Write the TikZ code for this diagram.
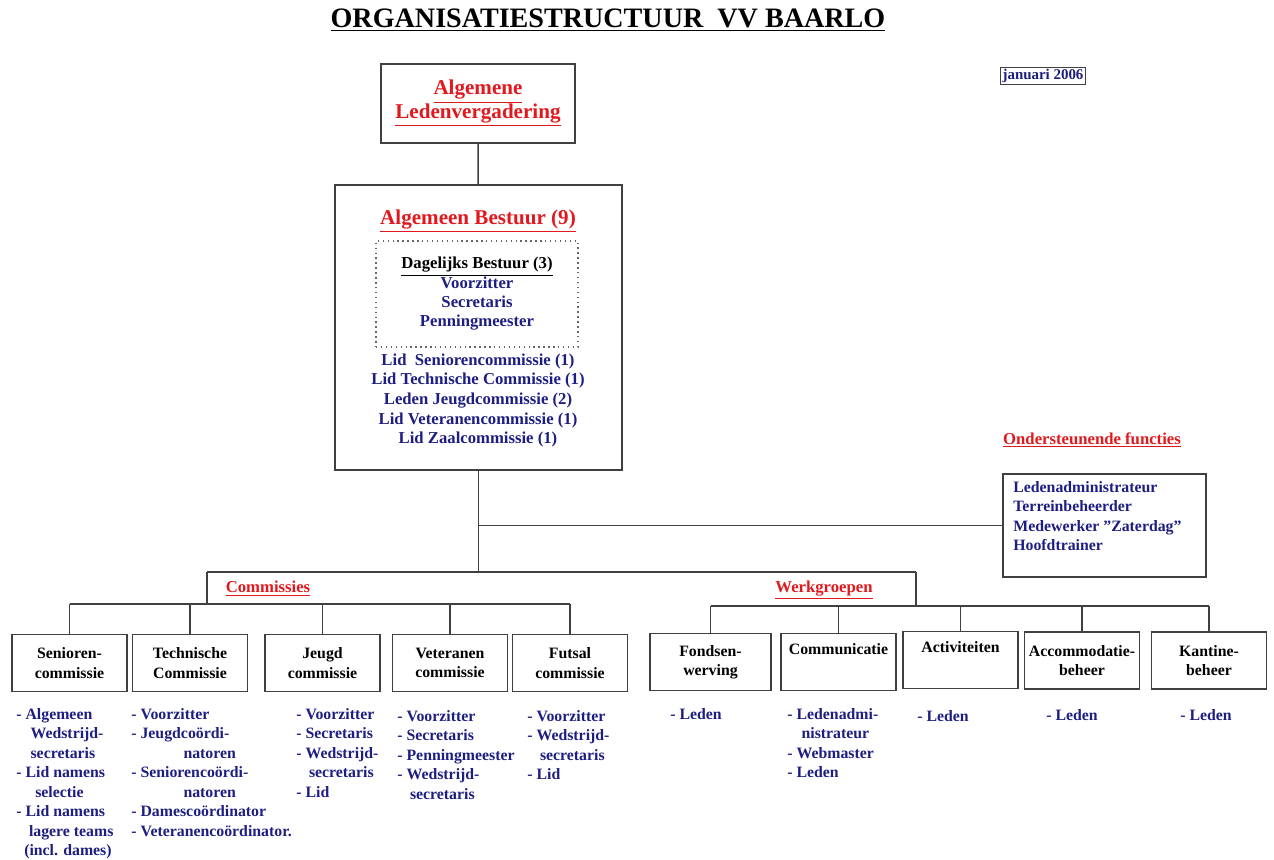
\documentclass[tikz,border=0pt]{standalone}
\usepackage{fontspec}
\setmainfont{Liberation Serif}

\definecolor{kopred}{RGB}{225,25,30}
\definecolor{lidblue}{RGB}{30,30,130}

\tikzset{
	box/.style={draw=black!75,line width=0.8pt,align=center,inner sep=2pt},
	txt/.style={font=\bfseries\fontsize{9}{11.1}\selectfont},
	kop/.style={text=kopred,font=\bfseries\fontsize{9.5}{11.2}\selectfont},
	unit/.style={box,txt,minimum width=2.3cm,minimum height=1.14cm},
	lst/.style={txt,text=lidblue,align=left,anchor=north west,inner sep=0pt},
	conn/.style={draw=black!75,line width=0.8pt}
}

\begin{document}
\begin{tikzpicture}[x=0.02cm,y=-0.02cm]
\useasboundingbox (0,0) rectangle (1274,859);

\node[font=\bfseries\fontsize{16}{18}\selectfont] (title) at (608,20) {\underline{ORGANISATIESTRUCTUUR~ VV BAARLO}};
\node[box,font=\bfseries\fontsize{8.5}{10}\selectfont,text=lidblue,inner sep=1pt,line width=0.6pt] (datum) at (1043,76) {januari 2006};

\node[box,minimum width=3.88cm,minimum height=1.58cm,text=kopred,font=\bfseries\fontsize{12}{13.6}\selectfont] (alv) at (478,103.5) {\underline{Algemene}\\\underline{Ledenvergadering}};

\node[box,minimum width=5.74cm,minimum height=5.7cm] (ab) at (478.5,327.5) {};
\node[text=kopred,font=\bfseries\fontsize{12}{13.6}\selectfont] (abtitle) at (478,221) {\underline{Algemeen Bestuur (9)}};
\node[draw=black!60,dotted,line width=0.8pt,minimum width=4.04cm,minimum height=2.12cm,align=center,text=lidblue,font=\bfseries\fontsize{9.5}{11}\selectfont] (db) at (477,294)
	{\textcolor{black}{\underline{Dagelijks Bestuur (3)}}\\Voorzitter\\Secretaris\\Penningmeester};
\node[text=lidblue,align=center,font=\bfseries\fontsize{9.5}{11.2}\selectfont] (ableden) at (478,400.5)
	{Lid~ Seniorencommissie (1)\\Lid Technische Commissie (1)\\Leden Jeugdcommissie (2)\\Lid Veteranencommissie (1)\\Lid Zaalcommissie (1)};

\node[kop] (ondlabel) at (1092,440) {\underline{Ondersteunende functies}};
\node[box,minimum width=4.06cm,minimum height=2.06cm] (ond) at (1104.5,525.5) {};
\node[lst] (ondtxt) at (1013,481) {Ledenadministrateur\\Terreinbeheerder\\Medewerker \symbol{34}Zaterdag\symbol{34}\\Hoofdtrainer};

\node[kop] (comlabel) at (268,589) {\underline{Commissies}};
\node[kop] (wrklabel) at (824,590) {\underline{Werkgroepen}};

\node[unit] (sen) at (69.5,663) {Senioren-\\commissie};
\node[unit] (tec) at (190,663) {Technische\\Commissie};
\node[unit] (jeu) at (322.5,663) {Jeugd\\commissie};
\node[unit] (vet) at (450,663) {Veteranen\\commissie};
\node[unit] (fut) at (570,663) {Futsal\\commissie};
\node[unit,minimum width=2.42cm] (fon) at (710.5,662) {Fondsen-\\werving};
\node[unit] (com) at (838.5,662) {Communicatie\\\strut};
\node[unit] (act) at (960.5,660) {Activiteiten\\\strut};
\node[unit] (acc) at (1082,660.5) {Accommodatie-\\beheer};
\node[unit] (kan) at (1209,660.5) {Kantine-\\beheer};

\coordinate (cbar) at (207,572);
\coordinate (wbar) at (916,572);
\coordinate (crow) at (207,604);
\coordinate (wrow) at (916,606);

\draw[conn] (alv) -- (ab);
\draw[conn] (ab.south) -- (ab.south |- cbar);
\draw[conn] (ab.south |- ond.west) -- (ond.west);
\draw[conn] (cbar) -- (wbar);
\draw[conn] (cbar) -- (crow);
\draw[conn] (wbar) -- (wrow);
\draw[conn] (sen.north |- crow) -- (fut.north |- crow);
\draw[conn] (fon.north |- wrow) -- (kan.north |- wrow);
\foreach \n in {sen,tec,jeu,vet,fut}
	\draw[conn] (\n.north |- crow) -- (\n.north);
\foreach \n in {fon,com,act,acc,kan}
	\draw[conn] (\n.north |- wrow) -- (\n.north);

\node[lst] (senlst) at (16,708) {- Algemeen\\\hspace*{0.9em}Wedstrijd-\\\hspace*{0.9em}secretaris\\- Lid namens\\\hspace*{1.2em}selectie\\- Lid namens\\\hspace*{0.8em}lagere teams\\\hspace*{0.5em}(incl. dames)};
\node[lst] (teclst) at (131,708) {- Voorzitter\\- Jeugdcoördi-\\\hspace*{3.3em}natoren\\- Seniorencoördi-\\\hspace*{3.3em}natoren\\- Damescoördinator\\- Veteranencoördinator.};
\node[lst] (jeulst) at (296,708) {- Voorzitter\\- Secretaris\\- Wedstrijd-\\\hspace*{0.8em}secretaris\\- Lid};
\node[lst] (vetlst) at (397,710) {- Voorzitter\\- Secretaris\\- Penningmeester\\- Wedstrijd-\\\hspace*{0.8em}secretaris};
\node[lst] (futlst) at (527,710) {- Voorzitter\\- Wedstrijd-\\\hspace*{0.8em}secretaris\\- Lid};
\node[lst] (fonlst) at (670,708) {- Leden};
\node[lst] (comlst) at (787,708) {- Ledenadmi-\\\hspace*{0.9em}nistrateur\\- Webmaster\\- Leden};
\node[lst] (actlst) at (917,710) {- Leden};
\node[lst] (acclst) at (1046,709) {- Leden};
\node[lst] (kanlst) at (1180,709) {- Leden};
\end{tikzpicture}
\end{document}
